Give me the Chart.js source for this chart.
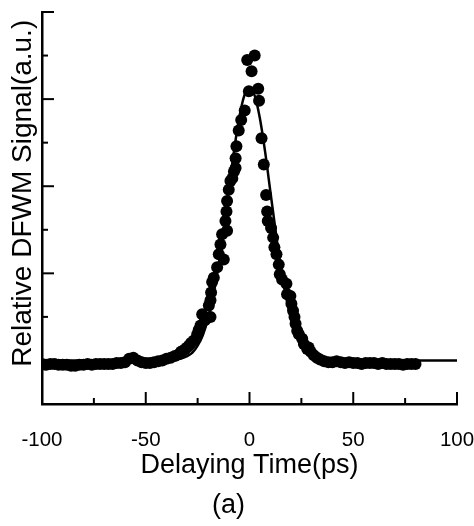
<!DOCTYPE html>
<html>
<head>
<meta charset="utf-8">
<script src="https://cdn.jsdelivr.net/npm/chart.js@4"></script>
<style>
  html, body { margin: 0; padding: 0; background: #fff; }
  canvas { display: block; }
</style>
</head>
<body>
<canvas id="dfwm" width="474" height="526"></canvas>
<script>
// measured points (delay in ps, relative signal)
const delayPoints = [
  -100, -98, -96, -94, -92, -90, -88, -86, -84, -82, -80, -78, -76, -74, -72, -70,
  -68, -66, -64, -62, -60, -58, -56, -54, -52, -50, -48, -46, -44, -42, -40, -38,
  -36, -34, -33, -32, -31, -30, -29.2, -28.2, -26.8, -25.2, -24.5, -23.6, -22.8, -21.5,
  -19.6, -18.8, -18.8, -18.5, -18.0, -17.2, -15.6, -14.8, -14.0, -13.2, -12.4, -11.6,
  -11.1, -10.8, -10.8, -10.0, -9.2, -8.3, -7.5, -6.7, -6.7, -6.3, -5.2, -4.0, -2.3,
  -1.1, -0.3, 1.0, 2.5, 4.2, 4.6, 5.8, 6.9, 8.0, 8.5, 8.8, 10.4, 11.4, 12.0, 13.0,
  14.1, 14.6, 15.7, 17.8, 18.1, 19.7, 20.2, 21.0, 21.7, 22.2, 23.0, 23.8, 25.4, 26.2,
  27.8, 28.5, 29.5, 31, 32.5, 34, 36, 38, 40, 42, 44, 46, 48, 50, 52, 54, 56, 58, 60,
  62, 64, 66, 68, 70, 72, 74, 76, 78, 80
];
const signalPoints = [
  -0.04, -0.05, -0.04, -0.04, -0.05, -0.05, -0.05, -0.06, -0.06, -0.05, -0.05, -0.04, -0.05, -0.04, -0.04, -0.04,
  -0.04, -0.04, -0.03, -0.03, -0.02, 0.02, 0.03, 0.0, -0.02, -0.03, -0.03, -0.02, -0.01, 0.0, 0.02, 0.03,
  0.05, 0.07, 0.10, 0.11, 0.13, 0.15, 0.17, 0.20, 0.23, 0.30, 0.35, 0.40, 0.53, 0.46,
  0.63, 0.50, 0.69, 0.78, 0.90, 0.95, 1.07, 1.22, 1.33, 1.45, 1.16, 1.60,
  1.71, 1.83, 1.49, 1.96, 2.06, 2.09, 2.17, 2.21, 2.32, 2.46, 2.64, 2.76, 2.87,
  3.45, 3.09, 3.32, 3.50, 3.12, 2.98, 2.55, 2.25, 1.90, 1.71, 1.60, 1.52, 1.41, 1.30, 1.22,
  1.10, 0.99, 0.93, 0.88, 0.76, 0.74, 0.65, 0.57, 0.50, 0.42, 0.34, 0.30, 0.25, 0.19,
  0.13, 0.15, 0.10, 0.06, 0.03, 0.01, -0.01, -0.02, -0.02, -0.01, -0.02, -0.03, -0.02, -0.03, -0.03, -0.04, -0.03, -0.03, -0.03,
  -0.04, -0.03, -0.04, -0.04, -0.04, -0.04, -0.05, -0.04, -0.04, -0.04
];

// fitted curve
const fitDelay = [
  -100, -60, -45, -40, -35, -30, -27.5, -25, -22.5, -20, -17.5, -15, -12.5, -10, -7.5, -5, -2.5, 0,
  2.5, 5, 7.5, 10, 12.5, 15, 17.5, 20, 22.5, 25, 27.5, 30, 35, 40, 45, 60, 100
];
const fitSignal = [
  0, 0, 0, 0, 0.01, 0.05, 0.09, 0.17, 0.29, 0.48, 0.74, 1.08, 1.50, 1.95, 2.40, 2.78, 3.04, 3.13,
  3.04, 2.78, 2.40, 1.95, 1.50, 1.08, 0.74, 0.48, 0.29, 0.17, 0.09, 0.05, 0.01, 0, 0, 0, 0
];

const xTickStep = 25;
const yTickStep = 0.5;

const fontFamily = "'Liberation Sans', Arial, sans-serif";

// ticks drawn inward from the axes, long on labelled positions
const innerTicks = {
  id: 'innerTicks',
  afterDraw(chart) {
    const { ctx, chartArea: area, scales: { x, y } } = chart;
    ctx.save();
    ctx.strokeStyle = '#000';
    ctx.lineWidth = 2;
    x.ticks.forEach(t => {
      const px = x.getPixelForValue(t.value);
      const len = t.value % 50 === 0 ? 12 : 6;
      ctx.beginPath();
      ctx.moveTo(px, area.bottom);
      ctx.lineTo(px, area.bottom - len);
      ctx.stroke();
    });
    y.ticks.forEach(t => {
      const py = y.getPixelForValue(t.value);
      const len = t.value % 1 === 0 ? 12 : 6;
      ctx.beginPath();
      ctx.moveTo(area.left, py);
      ctx.lineTo(area.left + len, py);
      ctx.stroke();
    });
    ctx.restore();
  }
};

const points = delayPoints.map((d, i) => ({ x: d, y: signalPoints[i] }));
const fit = fitDelay.map((d, i) => ({ x: d, y: fitSignal[i] }));

new Chart(document.getElementById('dfwm').getContext('2d'), {
  type: 'scatter',
  data: {
    datasets: [
      {
        label: 'fit',
        data: fit,
        showLine: true,
        borderColor: '#000',
        borderWidth: 2.5,
        pointRadius: 0,
        cubicInterpolationMode: 'monotone',
        order: 2
      },
      {
        label: 'data',
        data: points,
        backgroundColor: '#000',
        borderColor: '#000',
        borderWidth: 0,
        pointRadius: 6,
        pointHoverRadius: 6,
        order: 1
      }
    ]
  },
  options: {
    responsive: false,
    animation: false,
    events: [],
    layout: {
      padding: { left: 0, right: 17, top: 12, bottom: 6.6 }
    },
    plugins: {
      legend: { display: false },
      tooltip: { enabled: false },
      title: {
        display: true,
        position: 'bottom',
        text: '(a)',
        color: '#000',
        font: { family: fontFamily, size: 27, weight: 'normal', lineHeight: 1 },
        padding: { top: 13.2, bottom: 0 }
      }
    },
    scales: {
      x: {
        type: 'linear',
        min: -100,
        max: 100,
        grid: { display: false, drawTicks: false },
        border: { display: true, color: '#000', width: 2.5 },
        ticks: {
          stepSize: xTickStep,
          color: '#000',
          padding: 26,
          font: { family: fontFamily, size: 20.5, lineHeight: 1 },
          maxRotation: 0,
          autoSkip: false,
          callback: (v) => (v % 50 === 0 ? String(v) : '')
        },
        title: {
          display: true,
          text: 'Delaying Time(ps)',
          color: '#000',
          font: { family: fontFamily, size: 27, lineHeight: 1 },
          padding: { top: 0, bottom: 0 }
        },
        afterFit: (scale) => {
          scale.height = 75.2;
          scale.paddingLeft = 0;
          scale.paddingRight = 0;
        }
      },
      y: {
        type: 'linear',
        min: -0.5,
        max: 4,
        grid: { display: false, drawTicks: false },
        border: { display: true, color: '#000', width: 2.5 },
        ticks: { display: false, stepSize: yTickStep },
        title: {
          display: true,
          text: 'Relative DFWM Signal(a.u.) ',
          align: 'end',
          color: '#000',
          font: { family: fontFamily, size: 28, lineHeight: 1 },
          padding: { top: 9, bottom: 5 }
        },
        afterFit: (scale) => {
          scale.width = 42;
          scale.paddingTop = 0;
          scale.paddingBottom = 0;
        }
      }
    }
  },
  plugins: [innerTicks]
});
</script>
</body>
</html>
